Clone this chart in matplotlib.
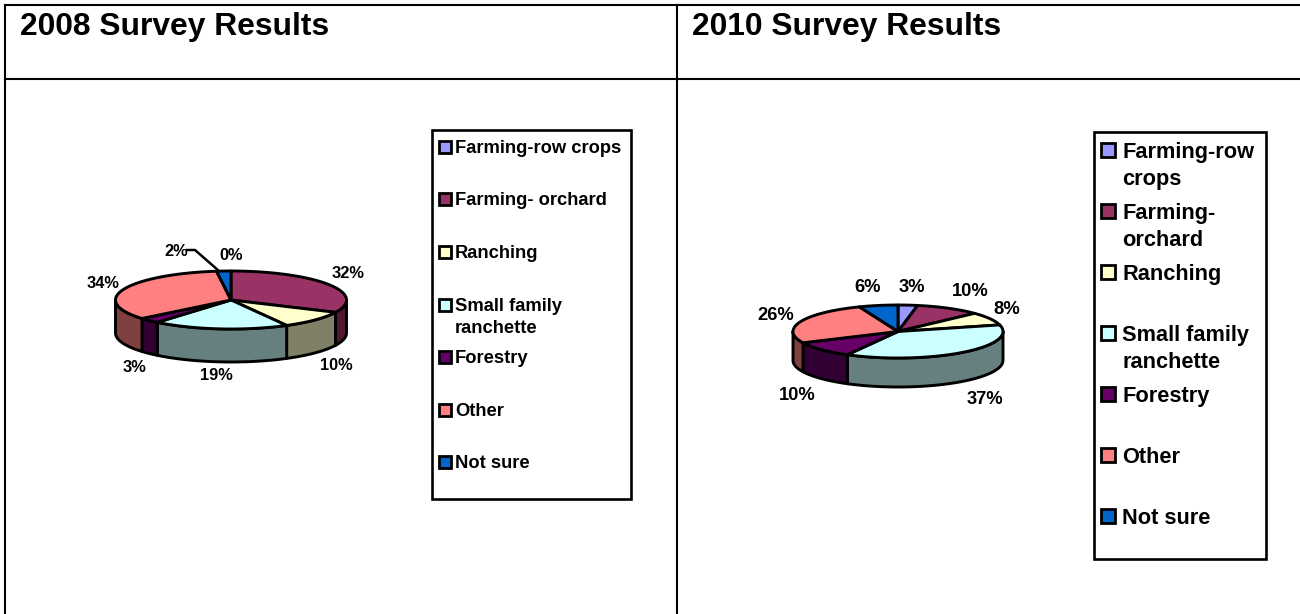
import numpy as np
import matplotlib
matplotlib.use('Agg')
import matplotlib.pyplot as plt
from matplotlib.patches import Rectangle

plt.rcParams['font.family'] = ['Liberation Sans', 'DejaVu Sans']

categories = ['Farming-row crops', 'Farming- orchard', 'Ranching', 'Small family ranchette',
              'Forestry', 'Other', 'Not sure']
values_2008 = [0, 32, 10, 19, 3, 34, 2]
values_2010 = [3, 10, 8, 37, 10, 26, 6]
titles = ['2008 Survey Results', '2010 Survey Results']

colors = ['#9999FF', '#993366', '#FFFFCC', '#CCFFFF', '#660066', '#FF8080', '#0066CC']
side_colors = ['#4D4D80', '#4D1933', '#808066', '#668080', '#330033', '#804040', '#003366']


def draw_pie(ax, values, cx, cy, rx, ry, depth):
    # clockwise from 12 o'clock, y axis points down so sin goes to the front
    edges = np.cumsum([0] + list(values)) / sum(values) * 2 * np.pi - np.pi / 2
    # sides first, left and right parts of the front half
    for i in range(len(values)):
        a0 = max(edges[i], 0)
        a1 = min(edges[i + 1], np.pi)
        if a1 <= a0:
            continue
        t = np.linspace(a0, a1, 80)
        xs = cx + rx * np.cos(t)
        ys = cy + ry * np.sin(t)
        ax.fill(np.r_[xs, xs[::-1]], np.r_[ys, ys[::-1] + depth],
                facecolor=side_colors[i], edgecolor='black', lw=2.1, joinstyle='round')
    for i in range(len(values)):
        if values[i] == 0:
            continue
        t = np.linspace(edges[i], edges[i + 1], 120)
        ax.fill(np.r_[cx, cx + rx * np.cos(t)], np.r_[cy, cy + ry * np.sin(t)],
                facecolor=colors[i], edgecolor='black', lw=2.1, joinstyle='round')


def draw_legend(ax, box, swatch_x, swatch_size, text_x, rows, labels, size, spacing, text_dy):
    ax.add_patch(Rectangle((box[0], box[1]), box[2] - box[0], box[3] - box[1],
                           facecolor='white', edgecolor='black', lw=1.9))
    for i in range(len(labels)):
        ax.add_patch(Rectangle((swatch_x, rows[i] - swatch_size / 2), swatch_size, swatch_size,
                               facecolor=colors[i], edgecolor='black', lw=2))
        ax.text(text_x, rows[i] - size * 0.62 + text_dy, labels[i], fontsize=size, fontweight='bold',
                va='top', ha='left', linespacing=spacing)


fig = plt.figure(figsize=(13, 6.14), dpi=100)
ax = fig.add_axes([0, 0, 1, 1])
ax.set_xlim(0, 1300)
ax.set_ylim(614, 0)
ax.axis('off')

# table grid
ax.plot([4.5, 4.5], [614, 4.5], color='black', lw=1.5)
ax.plot([4.5, 1300], [4.5, 4.5], color='black', lw=1.5)
ax.plot([4.5, 1300], [79, 79], color='black', lw=1.5)
ax.plot([677, 677], [4.5, 614], color='black', lw=1.5)

ax.text(20, 27, titles[0], fontsize=22.9, fontweight='bold', va='center')
ax.text(692, 27, titles[1], fontsize=22.9, fontweight='bold', va='center')

# left pie
draw_pie(ax, values_2008, 231, 300, 115.5, 29, 33)
ax.plot([187, 195, 219], [250, 250, 271], color='black', lw=1.8)
labels_2008 = [('0%', 231, 255), ('32%', 348, 274), ('10%', 336, 366), ('19%', 216, 376),
               ('3%', 134, 368), ('34%', 103, 284), ('2%', 176, 251)]
for txt, x, y in labels_2008:
    ax.text(x, y, txt, fontsize=11.8, fontweight='bold', ha='center', va='center')

# right pie
draw_pie(ax, values_2010, 898, 331.5, 105, 26.5, 29)
labels_2010 = [('3%', 912, 287), ('10%', 970, 291), ('8%', 1007, 309), ('37%', 985, 399),
               ('10%', 797, 395), ('26%', 776, 315), ('6%', 868, 288)]
for txt, x, y in labels_2010:
    ax.text(x, y, txt, fontsize=13.2, fontweight='bold', ha='center', va='center')

legend_left = ['Farming-row crops', 'Farming- orchard', 'Ranching', 'Small family\nranchette',
               'Forestry', 'Other', 'Not sure']
legend_right = ['Farming-row\ncrops', 'Farming-\norchard', 'Ranching', 'Small family\nranchette',
                'Forestry', 'Other', 'Not sure']
draw_legend(ax, (432, 130, 631, 499), 439, 12, 455, [147, 199, 252, 305, 357, 410, 462],
            legend_left, 13.2, 1.41, 1)
draw_legend(ax, (1094, 132, 1266, 559), 1101, 14, 1122, [150, 211, 272, 333, 394, 455, 516],
            legend_right, 15.7, 1.37, 1.5)

fig.savefig('out.png', dpi=100)
